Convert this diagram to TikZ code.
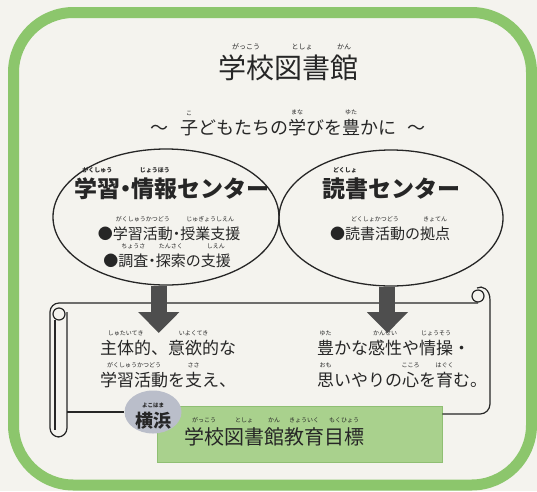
\documentclass[tikz,border=0pt]{standalone}
\usepackage{fontspec}
\setmainfont{Noto Sans CJK JP}
\usetikzlibrary{shapes.geometric,arrows.meta,positioning}

\definecolor{paper}{HTML}{F4F3EE}
\definecolor{framegreen}{HTML}{8CC66C}
\definecolor{goalgreen}{HTML}{A9D18D}
\definecolor{goalline}{HTML}{8FBF73}
\definecolor{ykgray}{HTML}{BABECA}
\definecolor{ink}{HTML}{262626}
\definecolor{arrowgray}{HTML}{4E4E4E}

% furigana over a word: \rb[size]{word}{reading}
\newcommand\rb[3][6]{\leavevmode\setbox0\hbox{#2}\rlap{\hbox to\wd0{\hss\raisebox{\dimexpr\ht0+4.5pt\relax}{\fontsize{#1}{#1}\selectfont #3}\hss}}\box0}
% narrow middle dot
\newcommand\md{\kern-.25em・\kern-.25em}

\begin{document}
\begin{tikzpicture}[
    x=1pt, y=-1pt,
    txt/.style={inner sep=0pt, text=ink},
    oval/.style={ellipse, draw=ink, line width=1.3pt, minimum width=226pt, minimum height=136pt, inner sep=0pt},
    bigarrow/.style={line width=16pt, arrowgray, -{Triangle[width=40pt,length=21pt]}},
    scroll/.style={draw=ink, line width=1.2pt},
    ink
    ]

    \useasboundingbox (0,0) rectangle (537,491);
    \fill[paper] (0,0) rectangle (537,491);
    \draw[line width=11pt, framegreen, rounded corners=60pt] (13.5,12.5) rectangle (531.5,485);

    %Title
    \node[txt, anchor=base, font=\fontsize{28}{28}\selectfont] (title) at (288,78) {\rb[7]{学校}{がっこう}\rb[7]{図書}{としょ}\rb[7]{館}{かん}};
    \node[txt, anchor=base, font=\fontsize{18}{18}\selectfont] (motto) at (288,134) {～\hspace{12pt}\rb{子}{こ}どもたちの\rb{学}{まな}びを\rb{豊}{ゆた}かに\hspace{12pt}～};

    %Centres
    \node[oval] (lc) at (166,217) {};
    \node[oval, minimum width=224pt] (rc) at (391,218) {};

    \node[txt, anchor=base, font=\bfseries\fontsize{23}{23}\selectfont] (lhead) at (172,197) {\rb{学習}{がくしゅう}\md\rb{情報}{じょうほう}センター};
    \node[txt, anchor=base, font=\fontsize{15}{15}\selectfont] (lb1) at (169,239) {●\rb{学習活動}{がくしゅうかつどう}\md\rb{授業支援}{じゅぎょうしえん}};
    \node[txt, anchor=base, font=\fontsize{15}{15}\selectfont] (lb2) at (167,266) {●\rb{調査}{ちょうさ}\md\rb{探索}{たんさく}の\rb{支援}{しえん}};

    \node[txt, anchor=base, font=\bfseries\fontsize{23}{23}\selectfont] (rhead) at (391,197) {\rb{読書}{どくしょ}センター};
    \node[txt, anchor=base, font=\fontsize{15}{15}\selectfont] (rb1) at (390,239) {●\rb{読書活動}{どくしょかつどう}の\rb{拠点}{きょてん}};

    %Scroll
    \coordinate (lroll) at (67,411);
    \coordinate (rcorner) at (480,414);
    \draw[scroll, rounded corners=9pt] (478,303) -- (50,303) -- (50,437) -- (67,437) -- (67,312);
    \draw[scroll] (59,314) circle[radius=6];
    \draw[scroll] (55,320) -- (55,430);
    \draw[scroll] (478,296) circle[radius=6];
    \draw[scroll] (490,300) .. controls (490,289) and (482,285) .. (477,288);

    \node[txt, anchor=base west, font=\fontsize{17}{17}\selectfont] (l1) at (100,354) {\rb{主体的}{しゅたいてき}、\rb{意欲的}{いよくてき}な};
    \node[txt, anchor=base west, font=\fontsize{17}{17}\selectfont] (l2) at (100,386) {\rb{学習活動}{がくしゅうかつどう}を\rb{支}{ささ}え、};
    \node[txt, anchor=base west, font=\fontsize{17}{17}\selectfont] (r1) at (317,354) {\rb{豊}{ゆた}かな\rb{感性}{かんせい}や\rb{情操}{じょうそう}・};
    \node[txt, anchor=base west, font=\fontsize{17}{17}\selectfont] (r2) at (317,386) {\rb{思}{おも}いやりの\rb{心}{こころ}を\rb{育}{はぐく}む。};

    %Goal
    \node[draw=goalline, fill=goalgreen, line width=0.8pt, minimum width=285pt, minimum height=56pt] (goal) at (299.5,434) {};
    \node[txt, anchor=base, font=\fontsize{20}{20}\selectfont] (goaltext) at (274,444) {\rb{学校}{がっこう}\rb{図書}{としょ}\rb{館}{かん}\rb{教育}{きょういく}\rb{目標}{もくひょう}};
    \node[ellipse, fill=ykgray, minimum width=57pt, minimum height=43pt, inner sep=0pt] (yk) at (153,412) {};
    \node[txt, anchor=base, font=\bfseries\fontsize{18}{18}\selectfont] (yktext) at (153,427) {\rb[5.5]{横浜}{よこはま}};

    \draw[scroll] (lroll |- yk.west) -- (yk.west);
    \draw[scroll, rounded corners=10pt] (goal.east |- rcorner) -- (490,414) -- (490,300);

    %Arrows
    \coordinate (ltip) at (159,333);
    \coordinate (rtip) at (387,333);
    \draw[bigarrow] (lc.264) -- (lc.264 |- ltip);
    \draw[bigarrow] (rc.267) -- (rc.267 |- rtip);
\end{tikzpicture}
\end{document}
